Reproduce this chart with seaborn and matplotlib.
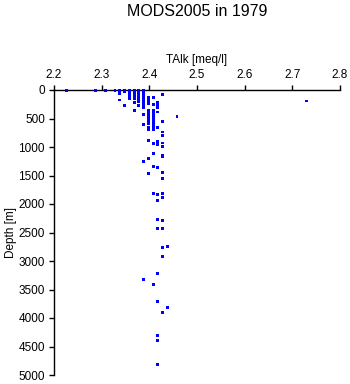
import matplotlib
matplotlib.use("Agg")
import matplotlib.pyplot as plt
import seaborn as sns
import pandas as pd

# (TAlk [meq/l], Depth [m])
talk = [
    2.227, 2.288, 2.308, 2.328,
    2.338, 2.338, 2.338, 2.338,
    2.348, 2.348, 2.348,
    2.358, 2.358, 2.358, 2.358, 2.358, 2.358, 2.358,
    2.368, 2.368, 2.368, 2.368, 2.368, 2.368, 2.368, 2.368, 2.368,
    2.378, 2.378, 2.378, 2.378, 2.378, 2.378, 2.378, 2.378, 2.378,
    2.388, 2.388, 2.388, 2.388, 2.388, 2.388, 2.388, 2.388, 2.388, 2.388, 2.388, 2.388, 2.388, 2.388,
    2.398, 2.398, 2.398, 2.398, 2.398, 2.398, 2.398, 2.398, 2.398, 2.398, 2.398, 2.398, 2.398, 2.398, 2.398, 2.398,
    2.408, 2.408, 2.408, 2.408, 2.408, 2.408, 2.408, 2.408, 2.408, 2.408, 2.408, 2.408, 2.408, 2.408, 2.408, 2.408,
    2.418, 2.418, 2.418, 2.418, 2.418, 2.418, 2.418, 2.418, 2.418, 2.418, 2.418, 2.418, 2.418, 2.418, 2.418, 2.418, 2.418,
    2.428, 2.428, 2.428, 2.428, 2.428, 2.428, 2.428, 2.428, 2.428, 2.428, 2.428, 2.428, 2.428, 2.428, 2.428, 2.428, 2.428,
    2.438, 2.438,
    2.458, 2.729,
]
depth = [
    10, 10, 10, 10,
    10, 30, 60, 175,
    10, 30, 270,
    10, 25, 50, 75, 100, 125, 150,
    10, 25, 50, 75, 100, 125, 150, 222, 357,
    10, 25, 50, 75, 100, 125, 150, 200, 280,
    10, 25, 50, 75, 100, 125, 150, 200, 250, 300, 433, 608, 1251, 3327,
    135, 175, 210, 240, 357, 400, 450, 500, 550, 590, 650, 700, 880, 1195, 1467, 1210,
    135, 257, 357, 400, 444, 500, 550, 600, 640, 690, 935, 1116, 1350, 1812, 3415, 942,
    222, 260, 300, 386, 650, 900, 960, 1362, 1830, 1940, 2274, 2432, 3216, 3712, 4310, 4403, 4812,
    75, 550, 737, 795, 930, 990, 1145, 1175, 1444, 1560, 1820, 1880, 2290, 2432, 2760, 2923, 3906,
    2740, 3818,
    468, 193,
]

x_ticks = [2.2, 2.3, 2.4, 2.5, 2.6, 2.7, 2.8]
y_ticks = list(range(0, 5001, 500))

df = pd.DataFrame({"TAlk": talk, "Depth": depth})

sns.set_style("ticks")
plt.rcParams["font.family"] = ["Liberation Sans", "DejaVu Sans"]

fig = plt.figure(figsize=(3.5, 3.84), dpi=100)
ax = fig.add_axes([54/350, 1-375/384, (340-54)/350, (375-90)/384])

sns.scatterplot(data=df, x="TAlk", y="Depth", ax=ax, marker="s", s=4.5,
                color="#0000ff", linewidth=0, edgecolor="none", zorder=5)
for c in ax.collections:
    c.set_clip_on(False)

ax.set_xlim(2.2, 2.8)
ax.set_ylim(5000, 0)
ax.set_xticks(x_ticks)
ax.set_xticklabels([f"{t:.1f}" for t in x_ticks])
ax.set_yticks(y_ticks)
ax.set_yticklabels([str(t) for t in y_ticks])

ax.xaxis.tick_top()
ax.xaxis.set_label_position("top")
for s in ["right", "bottom"]:
    ax.spines[s].set_visible(False)
for s in ["top", "left"]:
    ax.spines[s].set_color("black")
    ax.spines[s].set_linewidth(1.0)

ax.tick_params(axis="both", direction="out", length=3.5, width=1.0,
               color="black", labelsize=8.5, labelcolor="black", pad=3)
ax.set_xlabel("TAlk [meq/l]", fontsize=8.5, labelpad=4, color="black")
ax.set_ylabel("Depth [m]", fontsize=8.5, labelpad=1, color="black")
ax.set_facecolor("white")
fig.patch.set_facecolor("white")

fig.text(197/350, 1-11/384, "MODS2005 in 1979", ha="center", va="center",
         fontsize=11.5, color="black")

fig.savefig("out.png", dpi=100, facecolor="white")
